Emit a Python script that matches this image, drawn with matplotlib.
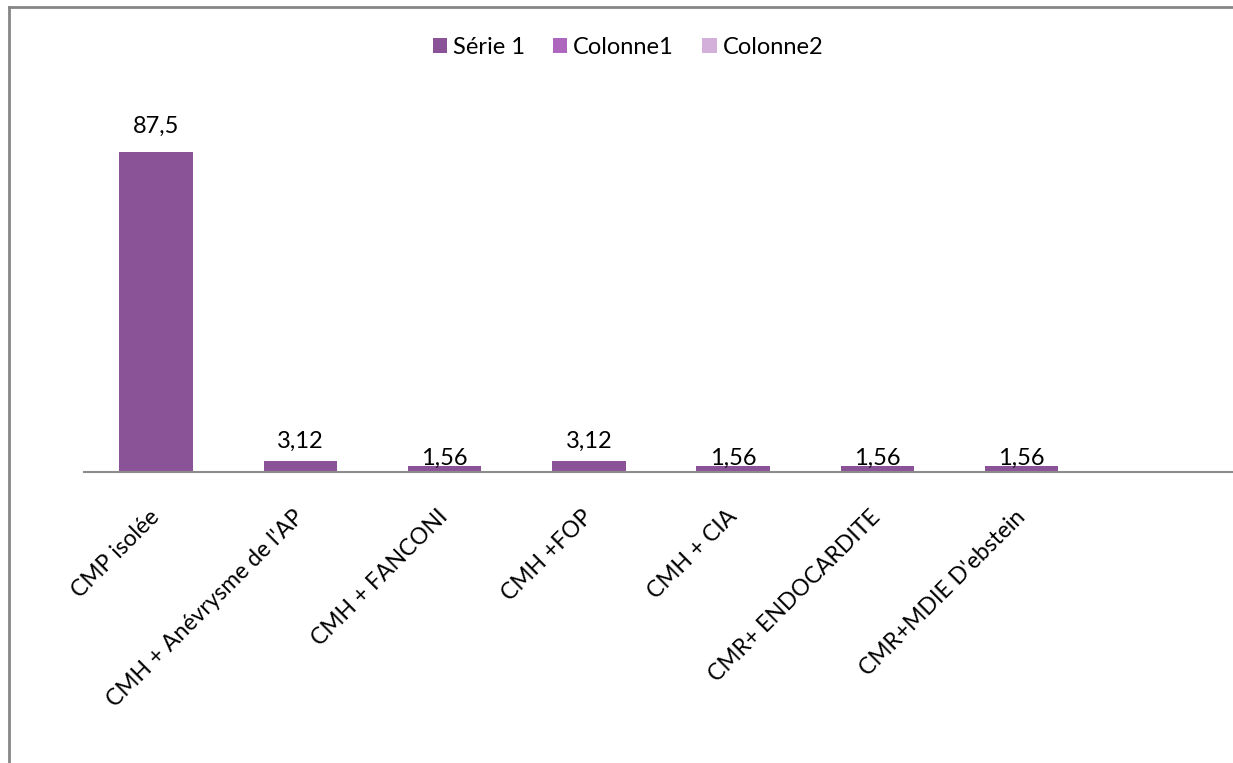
import numpy as np
import matplotlib.pyplot as plt
from matplotlib.lines import Line2D
from matplotlib.patches import Patch

plt.rcParams['font.family'] = ['Lato', 'DejaVu Sans']

categories = ["CMP isolée", "CMH + Anévrysme de l'AP", "CMH + FANCONI", "CMH +FOP",
              "CMH + CIA", "CMR+ ENDOCARDITE", "CMR+MDIE D'ebstein", ""]
serie1 = [87.5, 3.12, 1.56, 3.12, 1.56, 1.56, 1.56, np.nan]
serie1_labels = ["87,5", "3,12", "1,56", "3,12", "1,56", "1,56", "1,56", ""]
series_names = ["Série 1", "Colonne1", "Colonne2"]

colors = ["#8B5397", "#AD67BE", "#D2B0D9"]
label_pad = [11, 6, -1.5, 6, -1.5, -1.5, -1.5, 0]

W, H = 1233, 763
fig = plt.figure(figsize=(W / 100, H / 100), dpi=100)
ax = fig.add_axes([84 / W, 1 - 472 / H, 1154 / W, 366 / H])

x = np.arange(len(categories))
ax.bar(x, serie1, width=0.51, color=colors[0])
ax.set_xlim(-0.5, len(categories) - 0.5)
ax.set_ylim(0, 100)

for xi, v, lab, pad in zip(x, serie1, serie1_labels, label_pad):
    if lab:
        ax.annotate(lab, (xi, v), xytext=(0, pad), textcoords='offset points',
                    ha='center', va='bottom', fontsize=17)

for s in ['top', 'right', 'left']:
    ax.spines[s].set_visible(False)
ax.spines['bottom'].set_color('#8c8c8c')
ax.spines['bottom'].set_linewidth(1.5)
ax.set_yticks([])
ax.set_xticks(x)
ax.set_xticklabels(categories, rotation=45, ha='right', va='center',
                   rotation_mode='anchor', fontsize=16.5)
ax.tick_params(axis='x', length=0, pad=30)

handles = [Patch(facecolor=c, edgecolor='none') for c in colors]
fig.legend(handles, series_names, loc='center', bbox_to_anchor=(628 / W, 1 - 47 / H),
           ncol=3, frameon=False, fontsize=17, handlelength=0.6, handleheight=0.6,
           handletextpad=0.25, columnspacing=1.2)

# chart frame, only its left and top edges fall inside the image
fig.add_artist(Line2D([8.5 / W, 8.5 / W], [0, 1 - 7 / H], color='#868686', lw=2))
fig.add_artist(Line2D([8.5 / W, 1], [1 - 7 / H, 1 - 7 / H], color='#868686', lw=2))

fig.savefig("out.png", dpi=100)
